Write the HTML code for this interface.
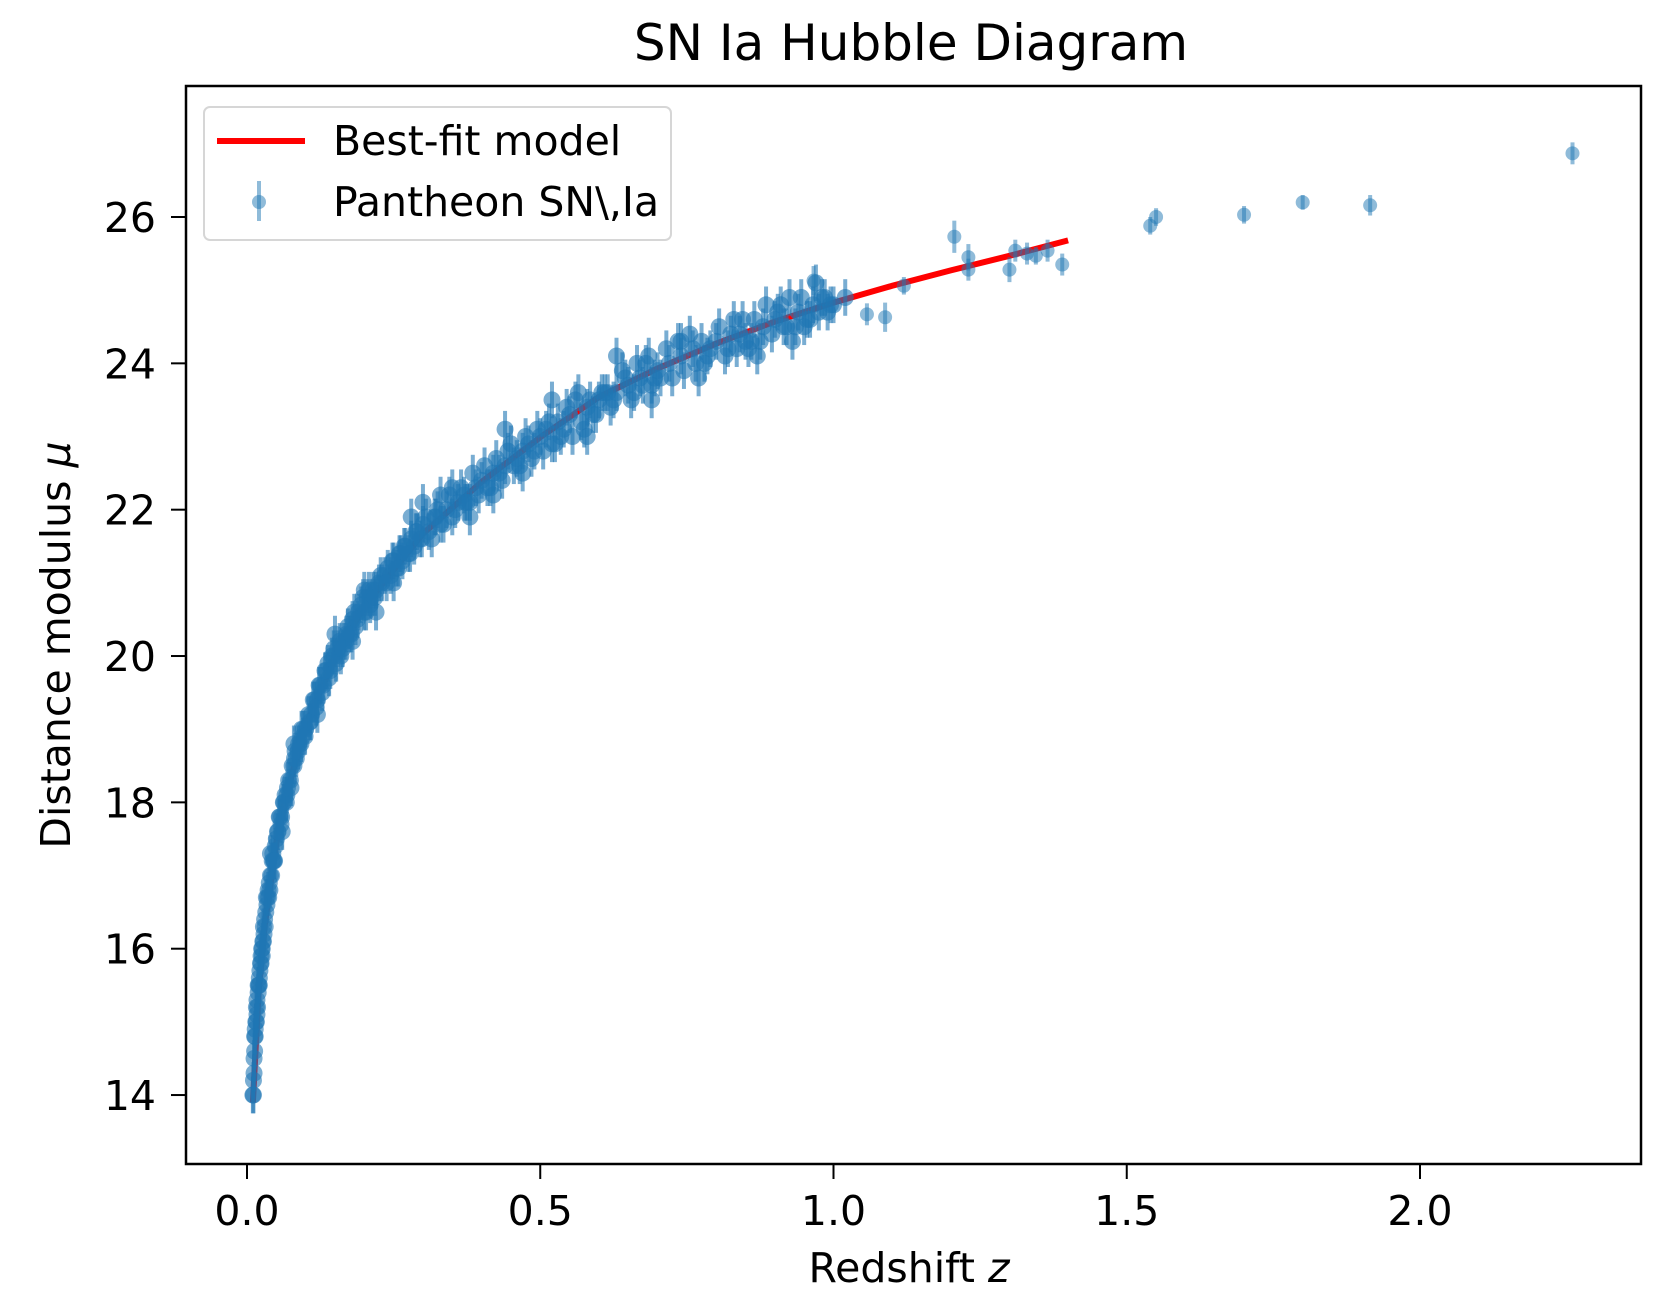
<!DOCTYPE html>
<html><head><meta charset="utf-8"><style>
html,body{margin:0;padding:0;background:#fff;}
svg{display:block;font-family:"DejaVu Sans","Liberation Sans",sans-serif;}
</style></head><body>
<svg id="chart" width="1658" height="1309" viewBox="0 0 1658 1309" xmlns="http://www.w3.org/2000/svg">
<rect x="0" y="0" width="1658" height="1309" fill="#fff"/>
<text x="911" y="60" font-size="50" text-anchor="middle" fill="#000">SN Ia Hubble Diagram</text>
<g id="plot"></g>
<rect x="186" y="86" width="1455" height="1078" fill="none" stroke="#000" stroke-width="2.5"/>
<g id="xticks"></g>
<g id="yticks"></g>
<text x="909" y="1282" font-size="41" text-anchor="middle">Redshift <tspan font-style="italic">z</tspan></text>
<text transform="translate(70,645) rotate(-90)" font-size="41" text-anchor="middle">Distance modulus <tspan font-style="italic">μ</tspan></text>
<g>
<rect x="204" y="107" width="467" height="133" rx="6" fill="#fff" fill-opacity="0.8" stroke="#d6d6d6" stroke-width="2"/>
<line x1="217" y1="141" x2="305" y2="141" stroke="#ff0000" stroke-width="6"/>
<text x="333" y="155" font-size="41">Best-fit model</text>
<line x1="259" y1="181" x2="259" y2="221" stroke="#1f77b4" stroke-opacity="0.5" stroke-width="4"/>
<circle cx="259" cy="202" r="7" fill="#1f77b4" fill-opacity="0.5"/>
<text x="333" y="216" font-size="41">Pantheon SN\,Ia</text>
</g>
</svg>
<script>
const modelZ=[0.01,0.02,0.03,0.05,0.07,0.1,0.15,0.2,0.3,0.4,0.5,0.6,0.7,0.8,0.9,1.0,1.1,1.2,1.3,1.4];
const modelMu=[13.9,15.42,16.31,17.44,18.19,19.05,19.99,20.68,21.67,22.38,22.99,23.54,23.93,24.27,24.57,24.83,25.06,25.27,25.47,25.68];
const dataZ=[0.010,0.011,0.012,0.013,0.014,0.015,0.016,0.017,0.018,0.019,0.020,0.021,0.022,0.023,0.024,0.025,0.026,0.027,0.028,0.029,0.030,0.032,0.034,0.036,0.038,0.040,0.042,0.044,0.046,0.048,0.050,0.053,0.056,0.059,0.062,0.065,0.068,0.071,0.074,0.077,0.080,0.084,0.088,0.092,0.096,0.100,0.105,0.110,0.115,0.120,0.125,0.130,0.135,0.140,0.145,0.150,0.155,0.160,0.165,0.170,0.175,0.180,0.185,0.190,0.195,0.200,0.205,0.210,0.215,0.220,0.225,0.230,0.235,0.240,0.245,0.250,0.255,0.260,0.265,0.270,0.275,0.280,0.285,0.290,0.295,0.300,0.31,0.32,0.33,0.34,0.35,0.36,0.37,0.38,0.39,0.40,0.41,0.42,0.43,0.44,0.45,0.46,0.47,0.48,0.49,0.50,0.51,0.52,0.53,0.54,0.55,0.56,0.57,0.58,0.59,0.60,0.61,0.62,0.63,0.64,0.65,0.66,0.67,0.68,0.69,0.70,0.72,0.74,0.76,0.78,0.80,0.82,0.84,0.86,0.88,0.90,0.92,0.94,0.96,0.97,0.98,1.00,1.02,
0.44,0.47,0.52,0.58,0.63,0.69,0.74,0.77,0.83,0.87,0.91,0.93,0.35,0.38,0.28,0.25,0.33,0.42,0.30,0.20,0.22,0.18,0.15,0.12,0.08,0.06,0.04,0.011,0.013,0.016,0.019,0.024,0.028,0.033,0.037,0.045,0.055,0.067,0.082,0.095,0.108,0.138,0.168,0.212,0.262,0.322,0.372,0.455,0.535,0.615,0.705,0.79,0.85,0.95,0.99,
0.012,0.014,0.017,0.021,0.026,0.031,0.035,0.039,0.043,0.047,0.052,0.058,0.063,0.069,0.075,0.081,0.087,0.093,0.099,0.107,0.113,0.118,0.123,0.128,0.133,0.142,0.148,0.152,0.158,0.163,0.172,0.178,0.183,0.188,0.198,0.203,0.208,0.218,0.228,0.238,0.248,0.258,0.268,0.278,0.288,0.298,0.305,0.315,0.325,0.335,0.345,0.355,0.365,0.375,0.385,0.395,0.405,0.415,0.425,0.435,0.445,0.465,0.475,0.485,0.495,0.505,0.515,0.525,0.545,0.555,0.565,0.575,0.585,0.595,0.605,0.625,0.645,0.655,0.665,0.675,0.685,0.695,0.715,0.725,0.735,0.745,0.755,0.765,0.775,0.785,0.805,0.815,0.825,0.835,0.845,0.855,0.865,0.875,0.885,0.895,0.905,0.915,0.925,0.935,0.945,0.955,0.965,0.975,0.985,0.995];
const dataMu=[14.0,14.2,14.5,14.6,14.9,15.0,15.2,15.3,15.2,15.4,15.5,15.5,15.7,15.8,15.9,16.0,15.9,16.1,16.3,16.2,16.4,16.5,16.6,16.8,16.9,17.0,17.0,17.3,17.2,17.4,17.5,17.6,17.8,17.8,18.0,18.1,18.1,18.3,18.3,18.5,18.5,18.6,18.8,18.8,19.0,19.0,19.2,19.2,19.4,19.4,19.6,19.6,19.8,19.7,20.0,20.0,20.1,20.0,20.2,20.3,20.3,20.5,20.4,20.6,20.7,20.6,20.8,20.7,20.9,20.9,21.0,21.0,21.1,21.2,21.1,21.3,21.2,21.4,21.3,21.5,21.4,21.6,21.5,21.7,21.6,21.8,21.7,21.9,21.8,22.0,21.9,22.1,22.2,22.1,22.3,22.4,22.3,22.5,22.5,22.6,22.9,22.7,22.8,22.9,22.8,23.0,23.1,22.9,23.2,23.1,23.3,23.5,23.2,23.4,23.3,23.5,23.6,23.4,23.6,23.9,23.7,23.6,23.8,24.0,23.7,23.9,24.0,24.1,24.2,24.0,24.3,24.2,24.4,24.3,24.5,24.6,24.5,24.7,24.6,25.1,24.9,24.8,24.9,
23.1,22.5,23.5,23.0,24.1,23.5,24.3,23.8,24.6,24.1,24.8,24.3,22.3,21.9,21.9,21.0,22.2,22.2,22.1,20.9,20.6,20.2,20.3,19.2,18.8,17.6,17.3,14.0,14.8,15.0,15.5,15.8,16.1,16.7,16.7,17.2,17.8,18.0,18.7,18.9,19.1,19.9,20.2,20.8,21.4,21.9,22.1,22.6,23.0,23.6,23.8,24.2,24.3,24.5,24.7,
14.3,14.8,15.1,15.6,16.0,16.3,16.7,16.8,17.2,17.2,17.6,17.7,18.0,18.2,18.2,18.6,18.7,19.0,18.9,19.1,19.4,19.3,19.6,19.5,19.8,19.8,20.1,19.9,20.2,20.1,20.4,20.3,20.6,20.5,20.8,20.6,20.9,20.8,21.1,21.0,21.3,21.2,21.5,21.4,21.7,21.6,21.9,21.6,22.0,21.8,22.2,22.0,22.3,22.1,22.5,22.2,22.6,22.3,22.7,22.4,22.8,22.6,23.0,22.7,23.1,22.8,23.2,22.9,23.4,23.0,23.6,23.1,23.5,23.3,23.6,23.5,23.8,23.5,24.0,23.7,24.1,23.8,24.2,23.8,24.3,23.9,24.4,24.0,24.3,24.1,24.5,24.1,24.4,24.2,24.6,24.2,24.6,24.3,24.8,24.4,24.7,24.5,24.9,24.5,24.9,24.6,24.8,24.7,24.9,24.8];
const tailZ=[0.966,1.057,1.088,1.12,1.206,1.23,1.23,1.30,1.31,1.33,1.345,1.365,1.39,1.54,1.55,1.70,1.80,1.915,2.26];
const tailMu=[25.13,24.67,24.63,25.06,25.73,25.45,25.28,25.28,25.54,25.5,25.47,25.54,25.35,25.88,26.0,26.03,26.2,26.16,26.87];
const tailErr=[0.2,0.15,0.2,0.12,0.22,0.18,0.15,0.17,0.15,0.15,0.12,0.15,0.15,0.12,0.12,0.12,0.1,0.14,0.15];
const denseErr=0.25;
const xTicks=[0.0,0.5,1.0,1.5,2.0];
const xTickLabels=["0.0","0.5","1.0","1.5","2.0"];
const yTicks=[14,16,18,20,22,24,26];
const yTickLabels=["14","16","18","20","22","24","26"];

const NS="http://www.w3.org/2000/svg";
function X(z){return 247+586.5*z;}
function Y(m){return 217+(26-m)*73.17;}
function mk(tag,attrs,parent){const e=document.createElementNS(NS,tag);for(const k in attrs)e.setAttribute(k,attrs[k]);parent.appendChild(e);return e;}
const plot=document.getElementById('plot');
let d='';
for(let i=0;i<modelZ.length;i++){d+=(i?'L':'M')+X(modelZ[i]).toFixed(1)+' '+Y(modelMu[i]).toFixed(1);}
const ml=mk('path',{d:d,fill:'none',stroke:'#ff0000','stroke-width':6,'stroke-linejoin':'round'},plot);


function point(z,m,e,r,op){
  const g=mk('g',{},plot);
  
  
  mk('line',{x1:X(z),x2:X(z),y1:Y(m+e),y2:Y(m-e),stroke:'#1f77b4','stroke-opacity':op,'stroke-width':4},g);
  mk('circle',{cx:X(z),cy:Y(m),r:r,fill:'#1f77b4','fill-opacity':op},g);
}
for(let i=0;i<dataZ.length;i++)point(dataZ[i],dataMu[i],denseErr,8.5,0.6);
for(let i=0;i<tailZ.length;i++)point(tailZ[i],tailMu[i],tailErr[i],7,0.5);
const xt=document.getElementById('xticks');
for(let i=0;i<xTicks.length;i++){
  const x=X(xTicks[i]);
  const t=mk('line',{x1:x,x2:x,y1:1164,y2:1179,stroke:'#000','stroke-width':2},xt);
  
  
  const l=mk('text',{x:x,y:1225,'font-size':41,'text-anchor':'middle'},xt);
  l.textContent=xTickLabels[i];
  
  
}
const yt=document.getElementById('yticks');
for(let i=0;i<yTicks.length;i++){
  const y=Y(yTicks[i]);
  const t=mk('line',{x1:171,x2:186,y1:y,y2:y,stroke:'#000','stroke-width':2},yt);
  
  
  const l=mk('text',{x:156,y:y+15,'font-size':41,'text-anchor':'end'},yt);
  l.textContent=yTickLabels[i];
  
  
}
</script>
</body></html>
